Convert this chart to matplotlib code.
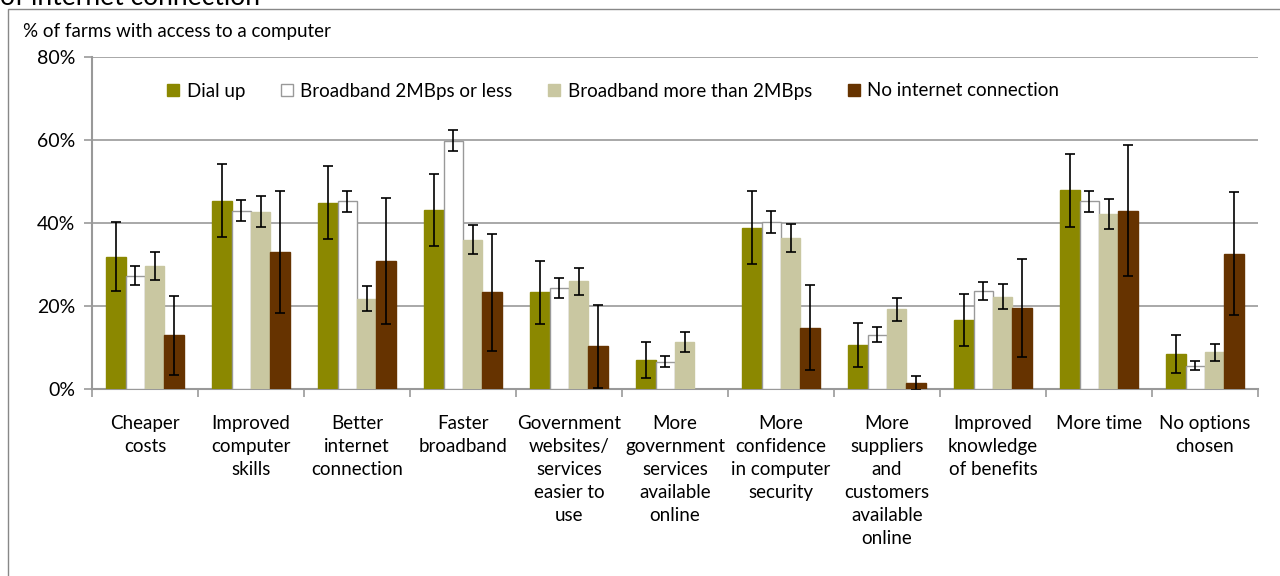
import numpy as np
import matplotlib
matplotlib.use("Agg")
import matplotlib.pyplot as plt
from matplotlib.patches import Rectangle

categories = [
    "Cheaper\ncosts",
    "Improved\ncomputer\nskills",
    "Better\ninternet\nconnection",
    "Faster\nbroadband",
    "Government\nwebsites/\nservices\neasier to\nuse",
    "More\ngovernment\nservices\navailable\nonline",
    "More\nconfidence\nin computer\nsecurity",
    "More\nsuppliers\nand\ncustomers\navailable\nonline",
    "Improved\nknowledge\nof benefits",
    "More time",
    "No options\nchosen",
]
series_names = ["Dial up", "Broadband 2MBps or less",
                "Broadband more than 2MBps", "No internet connection"]

# percentages (nan = no bar)
dial_up = [31.9, 45.3, 44.9, 43.1, 23.3, 6.9, 38.9, 10.6, 16.6, 47.9, 8.4]
bb_low = [27.3, 43.0, 45.2, 59.8, 24.3, 6.6, 40.3, 13.1, 23.6, 45.2, 5.6]
bb_high = [29.6, 42.7, 21.8, 36.0, 25.9, 11.4, 36.4, 19.2, 22.2, 42.2, 8.8]
no_conn = [12.9, 32.9, 30.8, 23.3, 10.3, np.nan, 14.8, 1.4, 19.6, 43.0, 32.6]

dial_up_err = [8.3, 8.8, 8.8, 8.6, 7.6, 4.3, 8.7, 5.4, 6.2, 8.8, 4.5]
bb_low_err = [2.3, 2.6, 2.6, 2.5, 2.4, 1.3, 2.7, 1.9, 2.2, 2.6, 1.1]
bb_high_err = [3.3, 3.7, 3.0, 3.5, 3.2, 2.4, 3.3, 2.8, 3.0, 3.6, 2.1]
no_conn_err = [9.5, 14.7, 15.2, 14.1, 10.0, np.nan, 10.3, 1.7, 11.8, 15.7, 14.8]

values = [dial_up, bb_low, bb_high, no_conn]
errors = [dial_up_err, bb_low_err, bb_high_err, no_conn_err]
fills = ["#8B8800", "#FFFFFF", "#C9C7A1", "#663300"]
edges = ["#8B8800", "#999999", "#C9C7A1", "#663300"]

plt.rcParams["font.family"] = ["Lato", "DejaVu Sans"]

fig = plt.figure(figsize=(12.8, 5.76), dpi=100)
ax = fig.add_axes([0.0719, 0.3247, 0.9109, 0.5764])

# outer chart frame and the cut-off title above it
fig.patches.append(Rectangle((0.00625, -0.05), 1.1, 1.0344, transform=fig.transFigure,
                             fill=False, edgecolor="#888888", lw=1.0))
fig.text(0.0, 1 - 5 / 576, "of internet connection", fontsize=19, va="baseline", ha="left")

x = np.arange(len(categories))
width = 0.183
for i, (vals, errs) in enumerate(zip(values, errors)):
    pos = x + (i - 1.5) * width
    ax.bar(pos, vals, width, color=fills[i], edgecolor=edges[i], linewidth=1.0,
           label=series_names[i], zorder=3)
    ax.errorbar(pos, vals, yerr=errs, fmt="none", ecolor="black", elinewidth=1.2,
                capsize=3.6, capthick=1.2, zorder=4)

ax.set_xlim(-0.5, len(categories) - 0.5)
ax.set_ylim(0, 80)
ax.set_yticks([0, 20, 40, 60, 80])
ax.set_yticklabels(["0%", "20%", "40%", "60%", "80%"], fontsize=14)
ax.yaxis.grid(True, color="#999999", linewidth=1.2, zorder=0)
ax.set_axisbelow(True)

ax.set_xticks(np.arange(-0.5, len(categories) + 0.5, 1.0))
ax.set_xticklabels([])
ax.set_xticks(x, minor=True)
ax.set_xticklabels(categories, minor=True, fontsize=13.5, linespacing=1.42, va="top")
ax.tick_params(axis="x", which="minor", length=0, pad=19)
ax.tick_params(axis="x", which="major", length=6, color="#999999", width=1.2)
ax.tick_params(axis="y", length=6, color="#999999", width=1.2, pad=6)

for side in ["top", "right"]:
    ax.spines[side].set_visible(False)
for side in ["left", "bottom"]:
    ax.spines[side].set_color("#999999")
    ax.spines[side].set_linewidth(1.5)

fig.text(23 / 1280, 1 - 31 / 576, "% of farms with access to a computer",
         fontsize=13.5, va="center", ha="left")

ax.legend(loc="center left", bbox_to_anchor=(150 / 1280, 1 - 91 / 576),
          bbox_transform=fig.transFigure, ncol=4, frameon=False, fontsize=13.5,
          handlelength=0.65, handleheight=0.65, handletextpad=0.4, columnspacing=1.9)

fig.savefig("out.png", dpi=100)
